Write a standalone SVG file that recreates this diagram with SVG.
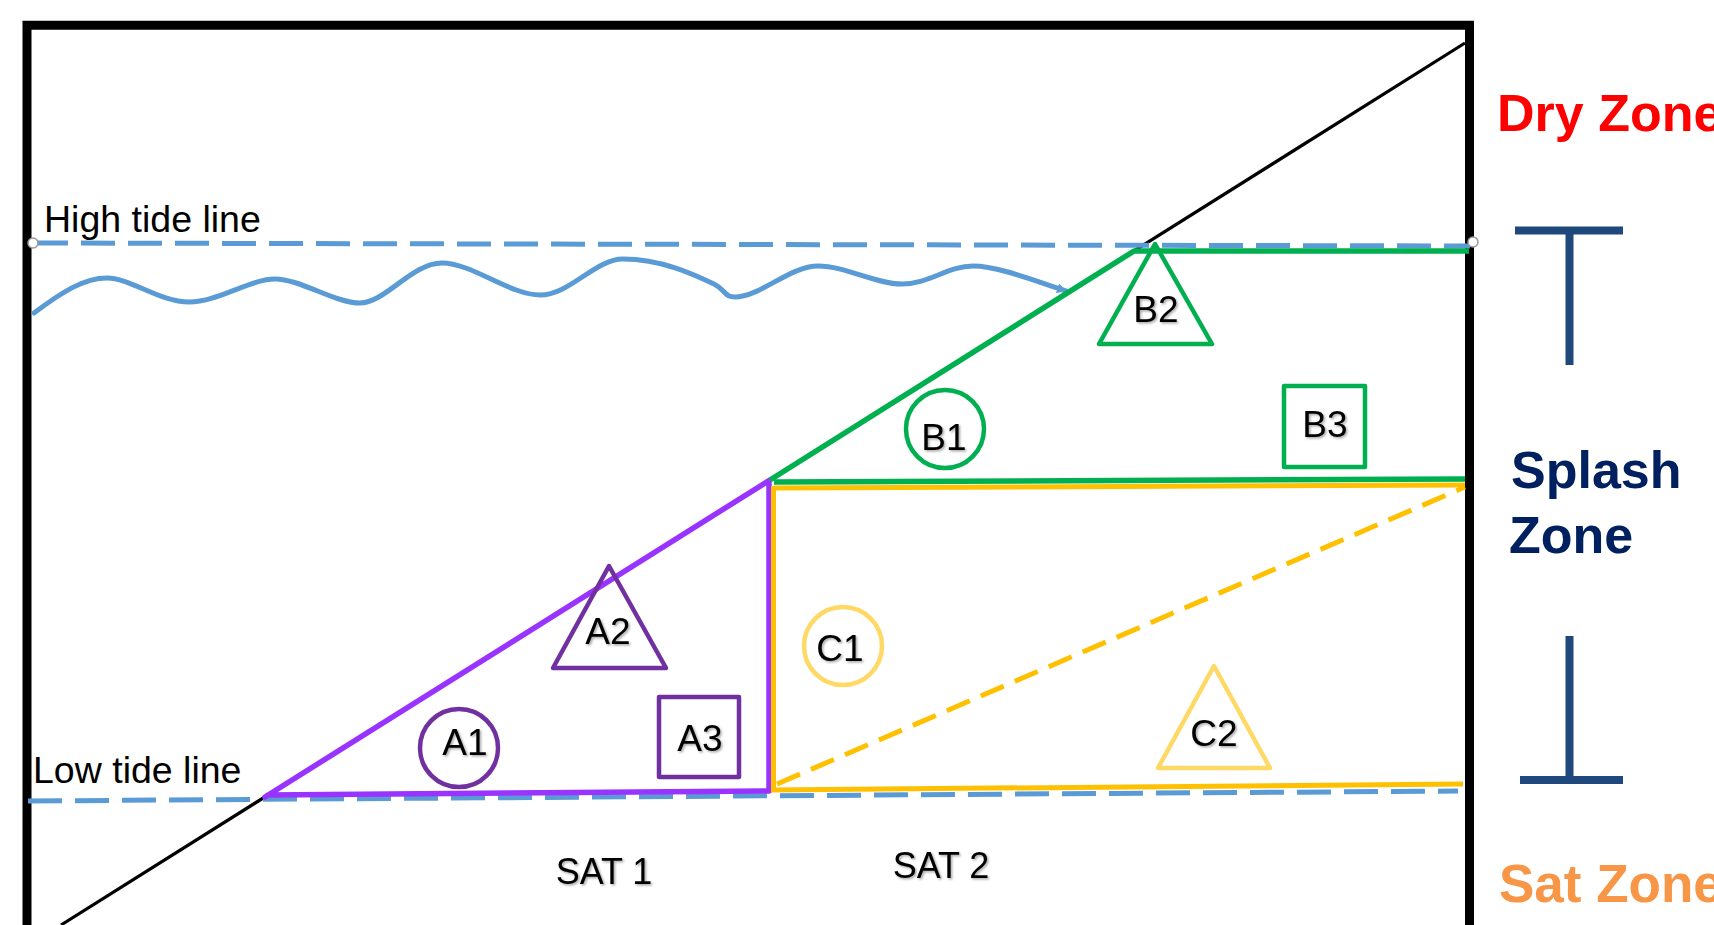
<svg xmlns="http://www.w3.org/2000/svg" width="1714" height="925" viewBox="0 0 1714 925">
<style>
  .lbl{font-family:"Liberation Sans",Arial,sans-serif;font-size:37px;fill:#000;text-anchor:middle;}
  .sh{filter:url(#shadow);}
  .tide{font-family:"Liberation Sans",Arial,sans-serif;font-size:37.5px;fill:#000;}
  .zone{font-family:"Liberation Sans",Arial,sans-serif;font-size:52px;font-weight:bold;}
  .dash{fill:none;stroke:#5B9BD5;stroke-width:5;stroke-dasharray:34 13;}
  .handle{fill:#fff;stroke:#9a9a9a;stroke-width:1.5;}
  .purple{fill:none;stroke:#9933FF;stroke-width:5.5;stroke-linecap:round;stroke-linejoin:round;}
  .green{fill:none;stroke:#00B050;stroke-width:5.5;stroke-linecap:butt;stroke-linejoin:round;}
  .yellow{fill:none;stroke:#FFC000;stroke-width:5;stroke-linecap:butt;}
  .shpA{fill:none;stroke:#7030A0;stroke-width:4.5;stroke-linejoin:round;}
  .shpB{fill:none;stroke:#00B050;stroke-width:4.5;stroke-linejoin:round;}
  .shpC{fill:none;stroke:#FFD966;stroke-width:4.5;stroke-linejoin:round;}
  .bracket{fill:none;stroke:#1F497D;stroke-width:8;}
</style>
<defs>
  <filter id="shadow" x="-20%" y="-20%" width="140%" height="140%">
    <feDropShadow dx="1.5" dy="1.5" stdDeviation="1" flood-color="#000" flood-opacity="0.35"/>
  </filter>
  <marker id="arr" markerUnits="userSpaceOnUse" markerWidth="12" markerHeight="12" refX="9" refY="5" orient="auto">
    <path d="M0,0 L10,5 L0,10 Z" fill="#5B9BD5"/>
  </marker>
</defs>
<rect width="1714" height="925" fill="#fff"/>

<g id="frame">
  <path d="M27,925 L27,25.3 L1469.5,25.3 L1469.5,925" fill="none" stroke="#000" stroke-width="9" stroke-linejoin="miter"/>
</g>

<g id="connectors">
  <!-- beach slope -->
  <line x1="61" y1="925" x2="1465" y2="43" stroke="#000" stroke-width="3.2"/>
  <!-- tide lines -->
  <line class="dash" x1="34" y1="243" x2="1470" y2="246"/>
  <line class="dash" x1="28" y1="801" x2="1458" y2="791"/>
  <!-- wave -->
  <path d="M34,313 C62,292 84,278 107,278 S160,302 189,302 S250,279 275,279 S335,303 360,303 S412,263 442,263 S510,295 540,295 S595,259 623,259 C662,259 695,275 714,284 C726,290 724,297 735,297 C760,297 790,266 818,266 S875,284 902,284 S948,266 973,266 S1035,281 1066,291" fill="none" stroke="#5B9BD5" stroke-width="5" stroke-linecap="round" marker-end="url(#arr)"/>
  <!-- SAT1 zone (purple) -->
  <path class="purple" d="M265,797 L769,480.5 L769,791 L268,795"/>
  <!-- splash zone (green) -->
  <path class="green" d="M770,480 L1134,251 L1469,251"/>
  <line class="green" x1="774" y1="482" x2="1465" y2="479"/>
  <!-- SAT2 zone (yellow) -->
  <line class="yellow" x1="774" y1="488" x2="1465" y2="485"/>
  <line class="yellow" x1="773.5" y1="486" x2="773.5" y2="792"/>
  <line class="yellow" x1="771" y1="790" x2="1463" y2="784"/>
  <line class="yellow" x1="777" y1="784" x2="1465" y2="487" stroke-dasharray="25 12"/>
  <!-- handles -->
  <circle class="handle" cx="33" cy="243" r="5"/>
  <circle class="handle" cx="1473" cy="242" r="5"/>
</g>

<g id="labels">
  <text class="tide" x="44" y="232">High tide line</text>
  <text class="tide" x="33" y="783">Low tide line</text>
  <text class="lbl sh" x="604" y="884" style="font-size:36px">SAT 1</text>
  <text class="lbl sh" x="941" y="878" style="font-size:36px">SAT 2</text>
</g>

<g id="A1"><circle class="shpA" cx="459" cy="748" r="39"/><text class="lbl sh" x="465" y="755">A1</text></g>
<g id="A2"><polygon class="shpA" points="609,566 666,668 553,668"/><text class="lbl sh" x="608" y="644">A2</text></g>
<g id="A3"><rect class="shpA" x="659" y="697" width="80" height="80"/><text class="lbl sh" x="700" y="751">A3</text></g>

<g id="B1"><circle class="shpB" cx="945" cy="429" r="39"/><text class="lbl sh" x="944" y="450">B1</text></g>
<g id="B2"><polygon class="shpB" points="1155,244 1212,344 1099,344"/><text class="lbl sh" x="1156" y="322">B2</text></g>
<g id="B3"><rect class="shpB" x="1284" y="386" width="81" height="81"/><text class="lbl sh" x="1325" y="437">B3</text></g>

<g id="C1"><circle class="shpC" cx="843" cy="646" r="39"/><text class="lbl sh" x="840" y="661">C1</text></g>
<g id="C2"><polygon class="shpC" points="1214,666 1270,768 1158,768"/><text class="lbl sh" x="1214" y="746">C2</text></g>

<g id="dry-zone"><text class="zone" x="1497" y="131" fill="#FF0000">Dry Zone</text></g>
<g id="splash-zone">
  <text class="zone" fill="#002060"><tspan x="1511" y="488">Splash</tspan><tspan x="1509" y="553">Zone</tspan></text>
  <path class="bracket" d="M1515,230.5 L1623,230.5 M1569.5,230.5 L1569.5,365"/>
  <path class="bracket" d="M1520,780 L1623,780 M1569.5,780 L1569.5,636"/>
</g>
<g id="sat-zone"><text class="zone" x="1499" y="902" fill="#F79646" style="font-size:53px">Sat Zone</text></g>
</svg>
